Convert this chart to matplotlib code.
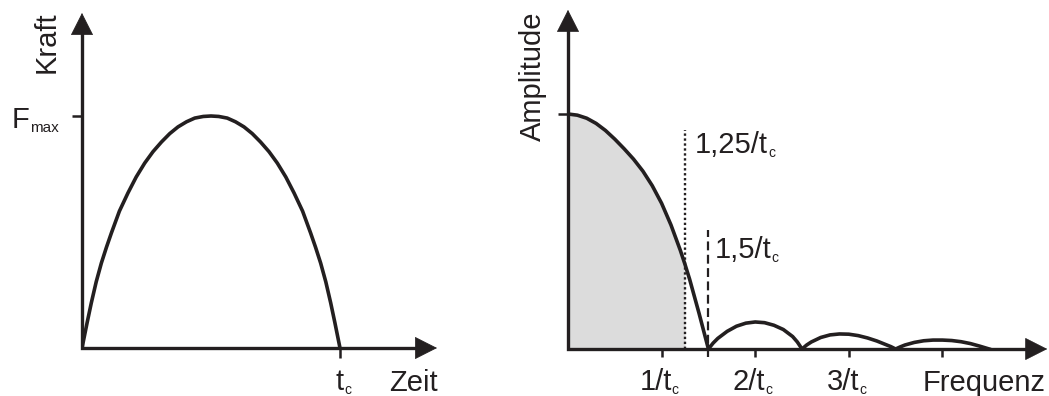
import matplotlib

matplotlib.use("Agg")
import matplotlib.pyplot as plt
import numpy as np

plt.rcParams["font.family"] = ["Liberation Sans", "DejaVu Sans"]

INK = "#231f20"
SHADE = "#dcdcdc"

# force pulse: time in units of t_c, force in units of F_max
time_tc = np.array([0, 0.01, 0.02, 0.036, 0.055, 0.075, 0.095, 0.114, 0.145, 0.178,
                    0.21, 0.243, 0.275, 0.308, 0.34, 0.372, 0.405, 0.437, 0.47, 0.5,
                    0.53, 0.563, 0.595, 0.628, 0.66, 0.692, 0.725, 0.757, 0.79, 0.822,
                    0.855, 0.886, 0.905, 0.925, 0.945, 0.964, 0.98, 0.99, 1.0])
force = np.array([0, 0.055, 0.11, 0.194, 0.285, 0.366, 0.435, 0.496, 0.59, 0.668,
                  0.737, 0.797, 0.846, 0.888, 0.924, 0.953, 0.975, 0.991, 0.998, 1.0,
                  0.998, 0.991, 0.975, 0.953, 0.924, 0.888, 0.846, 0.797, 0.737, 0.668,
                  0.59, 0.496, 0.435, 0.366, 0.285, 0.194, 0.11, 0.055, 0])

# amplitude spectrum: frequency in units of 1/t_c, amplitude normalised
freq_tc = np.array([0, 0.1, 0.2, 0.3, 0.4, 0.5, 0.6, 0.7, 0.8, 0.9, 1.0, 1.1, 1.2, 1.25,
                    1.3, 1.4, 1.5,
                    1.55, 1.6, 1.7, 1.8, 1.9, 2.0, 2.1, 2.2, 2.3, 2.4, 2.45, 2.5,
                    2.55, 2.6, 2.7, 2.8, 2.9, 3.0, 3.1, 3.2, 3.3, 3.4, 3.45, 3.5,
                    3.55, 3.6, 3.7, 3.8, 3.9, 4.0, 4.1, 4.2, 4.3, 4.4, 4.45, 4.5])
amplitude = np.array([1.0, 0.995, 0.982, 0.960, 0.930, 0.893, 0.852, 0.808, 0.757, 0.695,
                      0.62, 0.528, 0.42, 0.36, 0.296, 0.152, 0,
                      0.025, 0.045, 0.075, 0.097, 0.11, 0.115, 0.112, 0.101, 0.083, 0.053,
                      0.03, 0,
                      0.017, 0.03, 0.049, 0.06, 0.064, 0.063, 0.057, 0.047, 0.034, 0.018,
                      0.01, 0,
                      0.009, 0.017, 0.028, 0.035, 0.038, 0.038, 0.036, 0.031, 0.023,
                      0.012, 0.006, 0])

shaded_limit = 1.25
dashed_freq = 1.5
shaded_label = ("1,25/t", "c")
dashed_label = ("1,5/t", "c")
freq_ticks = [1, 2, 3, 4]
freq_tick_labels = ["1/t", "2/t", "3/t", ""]

W, H = 1049, 396
fig = plt.figure(figsize=(W / 100, H / 100), dpi=100)


def panel(x0, y0, sx, sy, xmax, ymax):
    # x0, y0: origin in pixels from top-left; sx, sy: pixels per data unit
    ax = fig.add_axes([x0 / W, (H - y0) / H, xmax * sx / W, ymax * sy / H])
    ax.set_xlim(0, xmax)
    ax.set_ylim(0, ymax)
    for s in ax.spines.values():
        s.set_visible(False)
    ax.patch.set_alpha(0)
    ax.tick_params(labelbottom=False, labelleft=False, direction="out",
                   width=1.8, color=INK)
    ax.set_xticks([])
    ax.set_yticks([])
    # axis lines with arrow heads
    ax.plot([0, 0, xmax - 10 / sx], [ymax - 10 / sy, 0, 0], color=INK, lw=2.4,
            solid_joinstyle="miter", solid_capstyle="butt", clip_on=False, zorder=5)
    head = dict(arrowstyle="-|>,head_length=0.75,head_width=0.38", mutation_scale=20,
                color=INK, lw=0.5, shrinkA=0, shrinkB=0)
    ax.annotate("", xy=(xmax, 0), xytext=(0, 0), arrowprops=head, annotation_clip=False)
    ax.annotate("", xy=(0, ymax), xytext=(0, 0), arrowprops=head, annotation_clip=False)
    return ax


def label(ax, xy, off, main, sub=None, size=21, subsize=10, **kw):
    t = ax.annotate(main, xy=xy, xytext=off, textcoords="offset pixels", fontsize=size,
                    color=INK, annotation_clip=False, **kw)
    if sub:
        ax.annotate(sub, xy=(1, 0), xycoords=t, xytext=(0, -1), textcoords="offset pixels",
                    fontsize=subsize, color=INK, ha="left", va="bottom")
    return t


# left: force over time
ax1 = panel(82, 348, 258, 232, 1.376, 1.444)
ax1.plot(time_tc, force, color=INK, lw=2.6, solid_joinstyle="round", zorder=4)
ax1.set_xticks([1])
ax1.set_yticks([1])
ax1.tick_params(axis="x", length=7.2)
ax1.tick_params(axis="y", length=7.2)
label(ax1, (0, 1.444), (-35, -29), "Kraft", rotation=90, ha="center", va="center")
label(ax1, (0, 1), (-70, -12), "F", "max", subsize=11, ha="left", va="baseline")
label(ax1, (1, 0), (0, -42), "t", "c", ha="center", va="baseline")
label(ax1, (1.376, 0), (1, -43), "Zeit", ha="right", va="baseline")

# right: amplitude spectrum
ax2 = panel(568, 349, 93.6, 235, 5.12, 1.443)
sel = freq_tc <= shaded_limit
ax2.fill_between(freq_tc[sel], amplitude[sel], color=SHADE, lw=0, zorder=1)
ax2.plot(freq_tc, amplitude, color=INK, lw=2.6, solid_joinstyle="round", zorder=4)
ax2.plot([shaded_limit, shaded_limit], [0, 0.93], color=INK, lw=1.7,
         linestyle=(0, (1, 1.1)), zorder=3)
ax2.plot([dashed_freq, dashed_freq], [-8 / 235, 0.506], color=INK, lw=1.6,
         linestyle=(0, (4, 2)), clip_on=False, zorder=3)
ax2.set_xticks(freq_ticks)
ax2.set_yticks([1])
ax2.tick_params(axis="x", length=5.8)
ax2.tick_params(axis="y", length=7.2)
label(ax2, (0, 1.443), (-35, -66), "Amplitude", rotation=90, ha="center", va="center")
for f, txt in zip(freq_ticks, freq_tick_labels):
    if txt:
        label(ax2, (f, 0), (-6, -41), txt, "c", ha="center", va="baseline")
label(ax2, (5.12, 0), (-2, -42), "Frequenz", ha="right", va="baseline")
label(ax2, (shaded_limit, 0.93), (10, -23), *shaded_label, ha="left", va="baseline")
label(ax2, (dashed_freq, 0.506), (6, -28), *dashed_label, ha="left", va="baseline")

fig.savefig("out.png", dpi=100)
